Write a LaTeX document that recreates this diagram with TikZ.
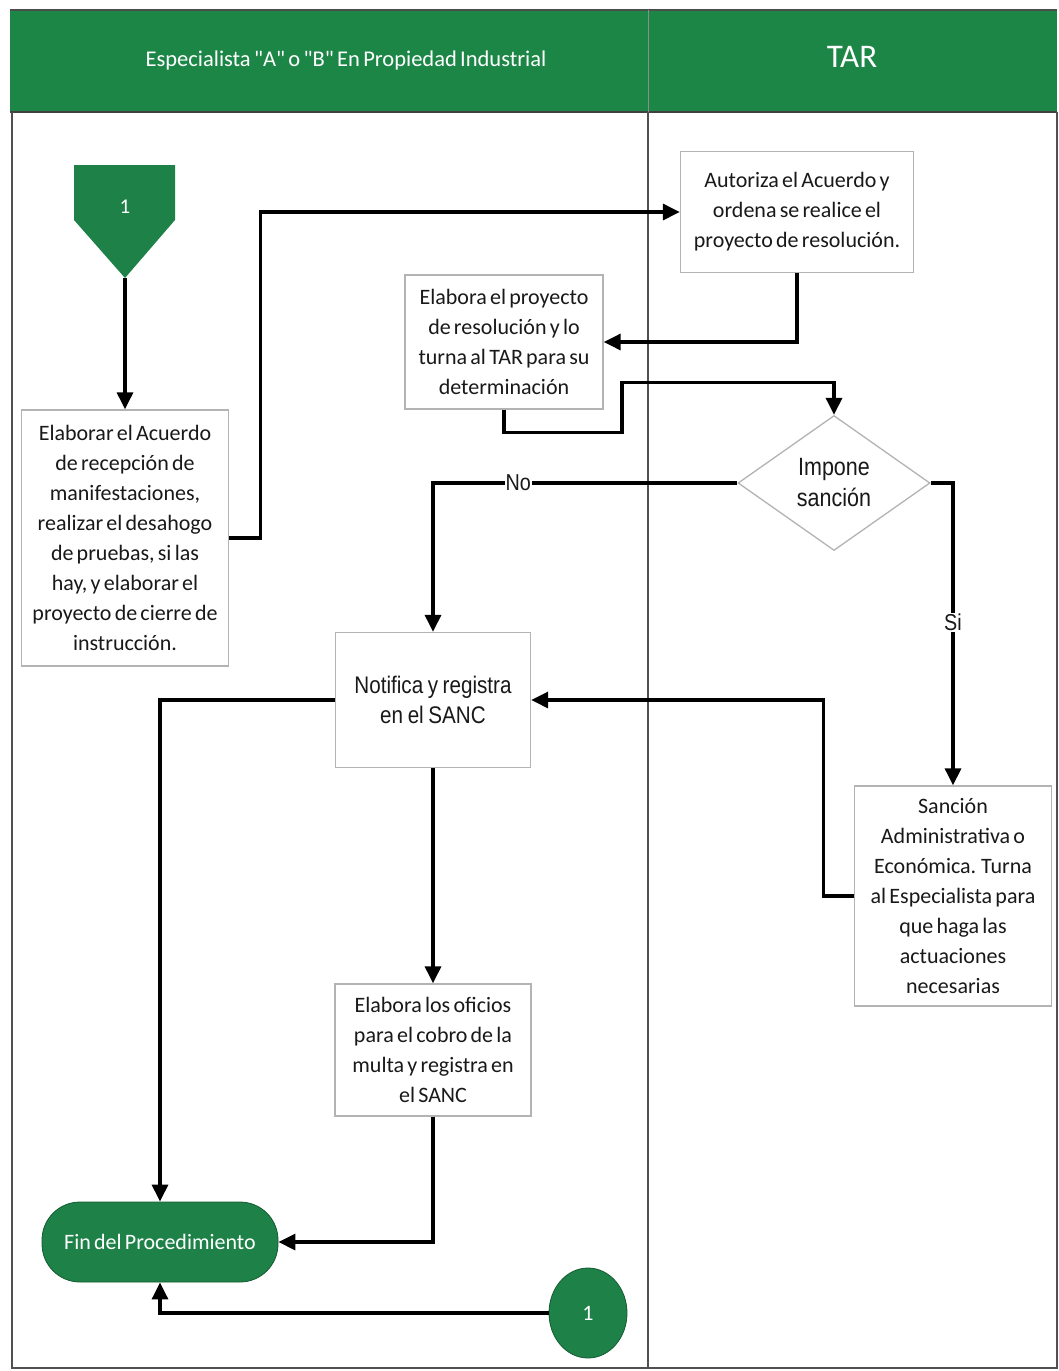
\documentclass[tikz,border=0pt]{standalone}
\usepackage{fontspec}
\setmainfont{Carlito}[WordSpace=0.65]
\newfontfamily\arialfont[FakeStretch=0.86,WordSpace=0.8]{Liberation Sans}
\usetikzlibrary{arrows.meta,shapes.geometric}
\definecolor{hdrgreen}{RGB}{28,134,70}
\definecolor{nodegreen}{RGB}{30,130,72}
\definecolor{boxline}{RGB}{178,180,178}
\definecolor{laneline}{RGB}{80,80,80}
\definecolor{txt}{RGB}{25,25,25}
\tikzset{
  stepbox/.style={draw=boxline, line width=1.3pt, fill=white, align=center,
    inner sep=0pt, text=txt, font=\fontsize{22}{30}\selectfont},
  decision/.style={diamond, draw=boxline, line width=1.3pt, fill=white, align=center,
    inner sep=0pt, aspect=1.42, text=txt, font=\arialfont\fontsize{25}{31}\selectfont},
  terminal/.style={fill=nodegreen, draw=nodegreen!70!black, line width=0.8pt,
    text=white, inner sep=0pt, font=\fontsize{22}{24}\selectfont},
  flow/.style={line width=3.2pt, draw=black, -{Triangle[length=17pt,width=16pt]}},
  edgelabel/.style={fill=white, inner sep=1pt, text=txt,
    font=\arialfont\fontsize{23}{24}\selectfont},
}
\begin{document}
\begin{tikzpicture}[x=1pt,y=-1pt]
\useasboundingbox (0,0) rectangle (1059,1371);
\fill[white] (0,0) rectangle (1059,1371);

% lanes and header band
\fill[hdrgreen] (10,10) rectangle (1057,112);
\draw[black!70, line width=1.2pt] (10,10) -- (1057,10);
\draw[black!75, line width=1.5pt] (10,112) -- (1057,112);
\draw[black!45, line width=1pt] (648,10) -- (648,112);
\draw[laneline, line width=1.4pt] (12,112) -- (12,1368) -- (1057,1368) -- (1057,112);
\draw[laneline, line width=1.4pt] (648,112) -- (648,1368);
\node[text=white, font=\fontsize{22.5}{24}\selectfont] (laneA) at (346,60)
  {Especialista \textquotedbl A\textquotedbl{} o \textquotedbl B\textquotedbl{} En Propiedad Industrial};
\node[text=white, font=\fontsize{33}{36}\selectfont] (laneB) at (852,57) {TAR};

% off-page connector at the start
\fill[nodegreen] (74,165) -- (175,165) -- (175,220) -- (125,278) -- (74,220) -- cycle;
\node[text=white, font=\fontsize{21}{24}\selectfont] (start) at (125,207) {1};
\coordinate (starttip) at (125,278);

% process steps
\node[stepbox, minimum width=207pt, minimum height=256pt] (b1) at (125,538)
  {Elaborar el Acuerdo\\de recepción de\\manifestaciones,\\realizar el desahogo\\de pruebas, si las\\hay, y elaborar el\\proyecto de cierre de\\instrucción.};
\node[stepbox, minimum width=233pt, minimum height=121pt] (b2) at (797,212)
  {Autoriza el Acuerdo y\\ordena se realice el\\proyecto de resolución.};
\node[stepbox, minimum width=198pt, minimum height=134pt] (b3) at (504,342)
  {Elabora el proyecto\\de resolución y lo\\turna al TAR para su\\determinación};
\node[decision, minimum width=192pt, minimum height=135pt] (d) at (834,483)
  {Impone\\sanción};
\node[stepbox, minimum width=195pt, minimum height=135pt,
  font=\arialfont\fontsize{24}{30}\selectfont] (b4) at (433,700)
  {Notifica y registra\\en el SANC};
\node[stepbox, minimum width=197pt, minimum height=220pt] (b5) at (953,896)
  {Sanción\\Administrativa o\\Económica. Turna\\al Especialista para\\que haga las\\actuaciones\\necesarias};
\node[stepbox, minimum width=196pt, minimum height=132pt] (b6) at (433,1050)
  {Elabora los oficios\\para el cobro de la\\multa y registra en\\el SANC};

% terminators
\node[terminal, rounded corners=38pt, minimum width=236pt, minimum height=80pt] (fin) at (160,1242)
  {Fin del Procedimiento};
\node[terminal, ellipse, minimum width=78pt, minimum height=90pt] (c1) at (588,1313) {1};

% connectors
\draw[flow] (starttip) -- (b1.north);
\draw[flow] (b1.east) -- ++(31,0) |- (b2.west);
\draw[flow] (b2.south) |- (b3.east);
\draw[flow] (b3.south) -- ++(0,23) -- ++(118,0) -- ++(0,-50) -| (d.north);
\draw[flow] (d.west) -| node[edgelabel, pos=0.36] {No} (b4.north);
\draw[flow] (d.east) -| node[edgelabel, pos=0.73] {Si} (b5.north);
\draw[flow] (b5.west) -- ++(-30,0) |- (b4.east);
\draw[flow] (b4.west) -| (fin.north);
\draw[flow] (b4.south) -- (b6.north);
\draw[flow] (b6.south) |- (fin.east);
\draw[flow] (c1.west) -| (fin.south);
\end{tikzpicture}
\end{document}
